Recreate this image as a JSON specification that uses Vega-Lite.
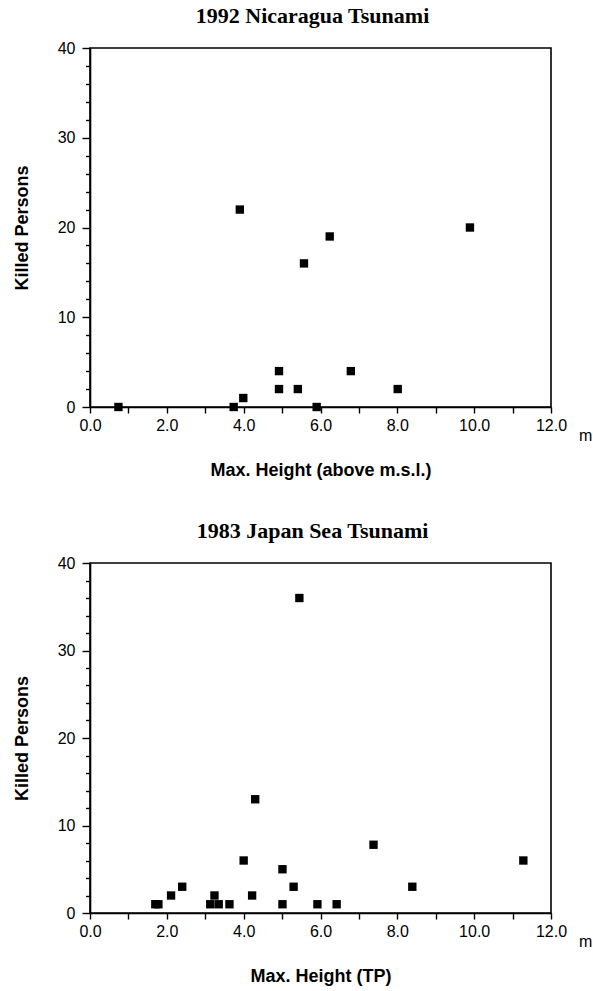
{
  "$schema": "https://vega.github.io/schema/vega-lite/v6.json",
  "padding": {"left": 12, "top": 4, "right": 0, "bottom": 0},
  "background": "white",
  "config": {
    "view": {"stroke": "black", "strokeWidth": 1.6},
    "font": "Liberation Sans",
    "title": {"font": "Liberation Serif", "fontSize": 22, "fontWeight": "bold", "color": "black", "offset": 12, "dx": -8},
    "axis": {"domainColor": "black", "domainWidth": 1.6, "tickColor": "black", "tickWidth": 1.4, "labelColor": "black", "labelFont": "Liberation Sans", "labelFontSize": 16, "titleFont": "Liberation Sans", "titleFontSize": 18, "titleFontWeight": "bold", "titleColor": "black", "grid": false, "labelOverlap": false},
    "concat": {"spacing": 39}
  },
  "vconcat": [
    {
      "title": "1992 Nicaragua Tsunami",
      "width": 461,
      "height": 359,
      "layer": [
        {
          "data": {"values": [
            {"height": 0.74, "killed": 0},
            {"height": 3.74, "killed": 0},
            {"height": 3.9, "killed": 22},
            {"height": 3.99, "killed": 1},
            {"height": 4.92, "killed": 4},
            {"height": 4.92, "killed": 2},
            {"height": 5.41, "killed": 2},
            {"height": 5.57, "killed": 16},
            {"height": 5.9, "killed": 0},
            {"height": 6.24, "killed": 19},
            {"height": 6.79, "killed": 4},
            {"height": 8.01, "killed": 2},
            {"height": 9.89, "killed": 20}
          ]},
          "mark": {"type": "square", "size": 70, "color": "black", "opacity": 1},
          "encoding": {
            "x": {"field": "height", "type": "quantitative", "scale": {"domain": [0, 12], "nice": false},
              "axis": {"values": [0,1,2,3,4,5,6,7,8,9,10,11,12], "tickCount": 50, "labelExpr": "datum.value % 2 === 0 ? format(datum.value, '.1f') : ''", "tickSize": 6, "labelPadding": 4, "labelOverlap": false, "title": "Max. Height (above m.s.l.)", "titlePadding": 28, "labelFlush": false}},
            "y": {"field": "killed", "type": "quantitative", "scale": {"domain": [0, 40], "nice": false},
              "axis": {"values": [0,2,4,6,8,10,12,14,16,18,20,22,24,26,28,30,32,34,36,38,40], "tickCount": 50, "labelExpr": "datum.value % 10 === 0 ? format(datum.value, 'd') : ''", "tickSize": {"condition": {"test": "datum.value % 10 === 0", "value": 8}, "value": 4.5}, "labelPadding": 7, "labelOverlap": false, "title": "Killed Persons", "titlePadding": 26}}
          }
        },
        {
          "data": {"values": [{"x": 12, "y": 0, "t": "m"}]},
          "mark": {"type": "text", "dx": 28, "dy": 29, "fontSize": 16, "font": "Liberation Sans", "align": "left", "color": "black"},
          "encoding": {
            "x": {"field": "x", "type": "quantitative"},
            "y": {"field": "y", "type": "quantitative"},
            "text": {"field": "t"}
          }
        }
      ]
    },
    {
      "title": "1983 Japan Sea Tsunami",
      "width": 461,
      "height": 350,
      "layer": [
        {
          "data": {"values": [
            {"height": 1.7, "killed": 1},
            {"height": 1.78, "killed": 1},
            {"height": 2.11, "killed": 2},
            {"height": 2.4, "killed": 3},
            {"height": 3.13, "killed": 1},
            {"height": 3.24, "killed": 2},
            {"height": 3.35, "killed": 1},
            {"height": 3.63, "killed": 1},
            {"height": 4.0, "killed": 6},
            {"height": 4.22, "killed": 2},
            {"height": 4.3, "killed": 13},
            {"height": 5.01, "killed": 5},
            {"height": 5.01, "killed": 1},
            {"height": 5.3, "killed": 3},
            {"height": 5.45, "killed": 36},
            {"height": 5.92, "killed": 1},
            {"height": 6.42, "killed": 1},
            {"height": 7.38, "killed": 7.8},
            {"height": 8.39, "killed": 3},
            {"height": 11.28, "killed": 6}
          ]},
          "mark": {"type": "square", "size": 70, "color": "black", "opacity": 1},
          "encoding": {
            "x": {"field": "height", "type": "quantitative", "scale": {"domain": [0, 12], "nice": false},
              "axis": {"values": [0,1,2,3,4,5,6,7,8,9,10,11,12], "tickCount": 50, "labelExpr": "datum.value % 2 === 0 ? format(datum.value, '.1f') : ''", "tickSize": 6, "labelPadding": 4, "labelOverlap": false, "title": "Max. Height (TP)", "titlePadding": 28, "labelFlush": false}},
            "y": {"field": "killed", "type": "quantitative", "scale": {"domain": [0, 40], "nice": false},
              "axis": {"values": [0,2,4,6,8,10,12,14,16,18,20,22,24,26,28,30,32,34,36,38,40], "tickCount": 50, "labelExpr": "datum.value % 10 === 0 ? format(datum.value, 'd') : ''", "tickSize": {"condition": {"test": "datum.value % 10 === 0", "value": 8}, "value": 4.5}, "labelPadding": 7, "labelOverlap": false, "title": "Killed Persons", "titlePadding": 26}}
          }
        },
        {
          "data": {"values": [{"x": 12, "y": 0, "t": "m"}]},
          "mark": {"type": "text", "dx": 28, "dy": 29, "fontSize": 16, "font": "Liberation Sans", "align": "left", "color": "black"},
          "encoding": {
            "x": {"field": "x", "type": "quantitative"},
            "y": {"field": "y", "type": "quantitative"},
            "text": {"field": "t"}
          }
        }
      ]
    }
  ]
}
